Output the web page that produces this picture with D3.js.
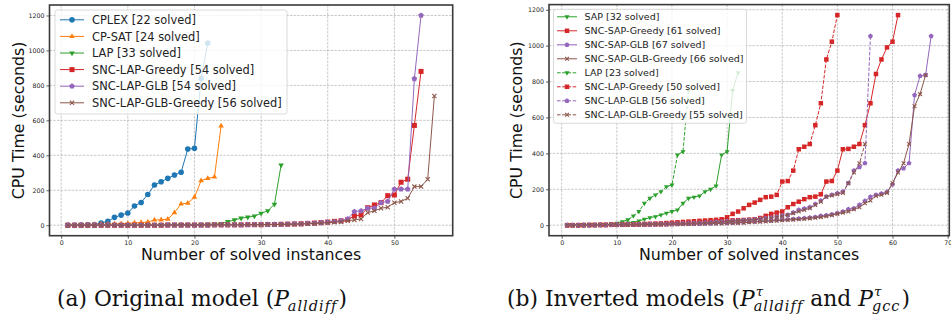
<!DOCTYPE html>
<html><head><meta charset="utf-8">
<script src="https://cdn.jsdelivr.net/npm/d3@7"></script>
<style>
html,body{margin:0;padding:0;background:#fff;}
svg{display:block;}
</style></head>
<body>
<svg id="chart" width="951" height="320"></svg>
<script>
// ---------- DATA ----------
// Panel (a): original model
const xTicksA = [0, 10, 20, 30, 40, 50];
const xTicksB = [0, 10, 20, 30, 40, 50, 60, 70];
const yTicks = [0, 200, 400, 600, 800, 1000, 1200];

const labelsA = ["CPLEX [22 solved]", "CP-SAT [24 solved]", "LAP [33 solved]",
  "SNC-LAP-Greedy [54 solved]", "SNC-LAP-GLB [54 solved]", "SNC-LAP-GLB-Greedy [56 solved]"];

const cplexA = [0,0,1,2,3,12,22,45,58,70,110,130,176,230,249,268,287,303,436,440,840,1043];
const cpsatA = [1,1,2,3,4,5,5,7,8,10,14,15,18,30,31,35,72,122,126,160,255,268,276,568];
const lapA = [0,0,0,0,0,0,0,1,1,1,1,1,2,2,2,2,3,3,3,4,4,5,6,9,20,30,40,46,52,68,82,120,344];
const greedyA = [0,0,0,0,0,0,0,0,0,0,0,0,0,0,0,1,1,1,1,1,1,1,2,2,2,2,2,3,3,3,
  4,4,5,6,7,8,10,12,15,18,22,25,32,53,59,100,116,129,169,173,246,263,571,880];
const glbA = [0,0,0,0,0,0,0,0,0,0,0,0,0,0,0,1,1,1,1,1,1,1,2,2,2,2,2,3,3,3,
  4,4,5,6,7,8,10,12,14,17,20,25,36,78,82,97,97,129,136,206,206,206,838,1200];
const glbGreedyA = [0,0,0,0,0,0,0,0,0,0,0,0,0,0,0,1,1,1,1,1,1,1,2,2,2,2,2,3,3,3,
  4,4,5,5,6,7,8,10,12,14,17,20,26,30,36,72,82,97,103,129,136,154,221,221,263,739];

// Panel (b): inverted models
const labelsB = ["SAP [32 solved]", "SNC-SAP-Greedy [61 solved]", "SNC-SAP-GLB [67 solved]",
  "SNC-SAP-GLB-Greedy [66 solved]", "LAP [23 solved]", "SNC-LAP-Greedy [50 solved]",
  "SNC-LAP-GLB [56 solved]", "SNC-LAP-GLB-Greedy [55 solved]"];

const sapB = [0,0,0,1,1,1,2,2,3,4,6,12,16,24,33,42,48,57,67,76,85,122,150,156,163,187,200,219,391,410,750,850];
const sapGreedyB = [0,0,0,0,1,1,1,1,2,2,2,3,3,3,4,4,5,5,6,7,8,9,10,12,13,15,17,20,22,25,
  27,28,29,31,33,40,52,63,70,76,100,118,131,145,156,159,172,243,246,304,
  423,425,437,452,557,679,842,923,990,1022,1170];
const sapGlbB = [0,0,0,0,1,1,1,1,2,2,2,3,3,3,4,4,4,5,5,6,6,7,7,8,8,9,9,10,11,12,
  13,14,16,18,20,22,24,26,28,30,32,34,37,39,42,45,52,55,60,67,
  76,89,94,113,135,158,169,176,185,228,304,317,345,725,831,836,1053];
const sapGlbGreedyB = [0,0,0,0,1,1,1,1,2,2,2,2,3,3,3,4,4,4,5,5,6,6,7,7,8,8,9,10,10,11,
  12,13,14,16,18,19,21,23,25,27,29,31,33,35,38,41,45,50,56,63,
  70,76,89,100,122,137,163,169,180,234,293,345,452,663,730,836];
const lapB = [0,0,1,1,2,2,3,4,6,11,20,30,52,76,122,150,169,187,215,224,391,410,752];
const lapGreedyB = [0,0,0,1,1,1,2,2,3,3,4,4,5,6,7,8,9,10,12,14,16,18,20,22,24,26,28,30,33,44,
  63,76,94,113,126,141,156,159,169,243,246,304,423,437,452,557,679,923,1022,1170];
const lapGlbB = [0,0,0,1,1,1,2,2,2,3,3,4,4,5,5,6,6,7,8,8,9,10,11,12,13,14,16,18,20,22,
  24,26,28,30,32,35,38,42,47,53,57,70,85,92,100,118,137,159,169,178,187,234,304,323,345,1053];
const lapGlbGreedyB = [0,0,0,1,1,1,2,2,2,3,3,3,4,4,5,5,6,6,7,8,8,9,10,11,12,13,14,16,18,20,
  22,24,26,28,30,33,36,40,45,50,57,66,76,85,94,113,131,159,165,172,180,234,293,345,452];

// ---------- STYLE ----------
const C = {blue:"#1f77b4", orange:"#ff7f0e", green:"#2ca02c", red:"#d62728", purple:"#9467bd", brown:"#8c564b"};

const seriesA = [
  {name: labelsA[0], values: cplexA, color: C.blue, marker: "circle", dash: null},
  {name: labelsA[1], values: cpsatA, color: C.orange, marker: "tri-up", dash: null},
  {name: labelsA[2], values: lapA, color: C.green, marker: "tri-down", dash: null},
  {name: labelsA[3], values: greedyA, color: C.red, marker: "square", dash: null},
  {name: labelsA[4], values: glbA, color: C.purple, marker: "pentagon", dash: null},
  {name: labelsA[5], values: glbGreedyA, color: C.brown, marker: "x", dash: null}
];
const DASH = "3.6,1.6";
const seriesB = [
  {name: labelsB[0], values: sapB, color: C.green, marker: "tri-down", dash: null},
  {name: labelsB[1], values: sapGreedyB, color: C.red, marker: "square", dash: null},
  {name: labelsB[2], values: sapGlbB, color: C.purple, marker: "pentagon", dash: null},
  {name: labelsB[3], values: sapGlbGreedyB, color: C.brown, marker: "x", dash: null},
  {name: labelsB[4], values: lapB, color: C.green, marker: "tri-down", dash: DASH},
  {name: labelsB[5], values: lapGreedyB, color: C.red, marker: "square", dash: DASH},
  {name: labelsB[6], values: lapGlbB, color: C.purple, marker: "pentagon", dash: DASH},
  {name: labelsB[7], values: lapGlbGreedyB, color: C.brown, marker: "x", dash: DASH}
];

const svg = d3.select("#chart");
const FONT = "DejaVu Sans, sans-serif";

function drawMarker(g, type, x, y, s, color) {
  const r = s / 2;
  if (type === "circle") {
    g.append("circle").attr("cx", x).attr("cy", y).attr("r", r).attr("fill", color);
  } else if (type === "square") {
    g.append("rect").attr("x", x - r * 0.9).attr("y", y - r * 0.9).attr("width", r * 1.8).attr("height", r * 1.8).attr("fill", color);
  } else if (type === "tri-up" || type === "tri-down") {
    const k = type === "tri-up" ? 1 : -1;
    const R = r * 1.15;
    const pts = [[0, -R * k], [R * 0.866, R * 0.5 * k], [-R * 0.866, R * 0.5 * k]];
    g.append("path").attr("d", "M" + pts.map(p => [x + p[0], y + p[1]].join(",")).join("L") + "Z").attr("fill", color);
  } else if (type === "pentagon") {
    const R = r * 1.05;
    const pts = d3.range(5).map(i => {
      const a = -Math.PI / 2 + i * 2 * Math.PI / 5;
      return [x + R * Math.cos(a), y + R * Math.sin(a)];
    });
    g.append("path").attr("d", "M" + pts.map(p => p.join(",")).join("L") + "Z").attr("fill", color);
  } else if (type === "x") {
    const h = r * 0.75;
    g.append("path").attr("d", `M${x - h},${y - h}L${x + h},${y + h}M${x - h},${y + h}L${x + h},${y - h}`)
      .attr("stroke", color).attr("stroke-width", 1.1).attr("fill", "none");
  }
}

function panel(cfg) {
  const {x0, x1, y0, y1, xDomain, yDomain, xTicks, series, legend, ylabelX, msize} = cfg;
  const x = d3.scaleLinear().domain(xDomain).range([x0, x1]);
  const y = d3.scaleLinear().domain(yDomain).range([y1, y0]);
  const g = svg.append("g");

  // grid
  const grid = g.append("g").attr("stroke", "#b0b0b0").attr("stroke-width", 0.7).attr("stroke-dasharray", "2.5,1.2");
  xTicks.forEach(t => grid.append("line").attr("x1", x(t)).attr("x2", x(t)).attr("y1", y0).attr("y2", y1));
  yTicks.forEach(t => grid.append("line").attr("x1", x0).attr("x2", x1).attr("y1", y(t)).attr("y2", y(t)));

  // axes with d3 axis generators
  const xAxis = d3.axisBottom(x).tickValues(xTicks).tickSize(3).tickPadding(2).tickFormat(d3.format("d"));
  const yAxis = d3.axisLeft(y).tickValues(yTicks).tickSize(3).tickPadding(2).tickFormat(d3.format("d"));
  const gx = g.append("g").attr("transform", `translate(0,${y1})`).call(xAxis);
  const gy = g.append("g").attr("transform", `translate(${x0},0)`).call(yAxis);
  [gx, gy].forEach(a => {
    a.select(".domain").remove();
    a.selectAll("line").attr("stroke", "#333").attr("stroke-width", 0.8);
    a.selectAll("text").attr("font-family", FONT).attr("font-size", 6.3).attr("fill", "#222");
  });

  // series
  const clip = "clip" + Math.round(x0);
  svg.append("clipPath").attr("id", clip).append("rect").attr("x", x0).attr("y", y0).attr("width", x1 - x0).attr("height", y1 - y0);
  const plot = g.append("g").attr("clip-path", `url(#${clip})`);
  series.forEach(s => {
    const pts = s.values.map((v, i) => [x(i + 1), y(v)]);
    const sg = plot.append("g");
    sg.append("path").attr("d", d3.line()(pts)).attr("fill", "none").attr("stroke", s.color)
      .attr("stroke-width", 1.0).attr("stroke-dasharray", s.dash);
    pts.forEach(p => drawMarker(sg, s.marker, p[0], p[1], msize, s.color));
  });

  // legend
  const lg = g.append("g");
  lg.append("rect").attr("x", legend.x).attr("y", legend.y).attr("width", legend.w).attr("height", legend.h)
    .attr("rx", 2.5).attr("fill", "#fff").attr("fill-opacity", 0.8).attr("stroke", "#d0d0d0").attr("stroke-width", 0.8);
  series.forEach((s, i) => {
    const cy = legend.firstRow + i * legend.step;
    lg.append("line").attr("x1", legend.hx0).attr("x2", legend.hx1).attr("y1", cy).attr("y2", cy)
      .attr("stroke", s.color).attr("stroke-width", 1.0).attr("stroke-dasharray", s.dash);
    drawMarker(lg, s.marker, (legend.hx0 + legend.hx1) / 2, cy, msize, s.color);
    lg.append("text").attr("x", legend.tx).attr("y", cy + legend.fs * 0.36).attr("font-family", FONT)
      .attr("font-size", legend.fs).attr("fill", "#222").text(s.name);
  });

  // spines
  g.append("rect").attr("x", x0).attr("y", y0).attr("width", x1 - x0).attr("height", y1 - y0)
    .attr("fill", "none").attr("stroke", "#3a3a3a").attr("stroke-width", 1.6);

  // axis labels
  g.append("text").attr("x", (x0 + x1) / 2).attr("y", 260).attr("text-anchor", "middle")
    .attr("font-family", FONT).attr("font-size", 15.8).attr("fill", "#111").text("Number of solved instances");
  g.append("text").attr("transform", `translate(${ylabelX},${(y0 + y1) / 2}) rotate(-90)`).attr("text-anchor", "middle")
    .attr("font-family", FONT).attr("font-size", 15.8).attr("fill", "#111").text("CPU Time (seconds)");
}

panel({x0: 49.5, x1: 452.7, y0: 5, y1: 235.7, xDomain: [-1.75, 58.75], yDomain: [-60, 1260],
  xTicks: xTicksA, series: seriesA, ylabelX: 24, msize: 5.6,
  legend: {x: 55, y: 10, w: 232, h: 104, firstRow: 19.8, step: 16.6, hx0: 60, hx1: 84, tx: 92, fs: 11.4}});

panel({x0: 549, x1: 949.3, y0: 4.6, y1: 235.7, xDomain: [-2.3, 70.3], yDomain: [-58.5, 1228.5],
  xTicks: xTicksB, series: seriesB, ylabelX: 521.5, msize: 5,
  legend: {x: 553.5, y: 9.3, w: 193, h: 114, firstRow: 16.8, step: 14.0, hx0: 557, hx1: 577, tx: 584.5, fs: 9.5}});

// captions (serif, with math-style italic P, superscript tau and subscripts)
const SERIF = "DejaVu Serif, Liberation Serif, serif";
const CAP_Y = 306, CAP_FS = 21.8, SUB_FS = 14.5;
const SPACE = CAP_FS * 0.32;
function capText(x, y, txt, fs, italic, spacing) {
  const t = svg.append("text").attr("x", x).attr("y", y).attr("font-family", SERIF)
    .attr("font-size", fs).attr("fill", "#111").text(txt);
  if (italic) t.attr("font-style", "italic");
  if (spacing) t.attr("letter-spacing", spacing);
  return t.node().getComputedTextLength();
}
function mathP(x, sup, sub) {
  let w = capText(x, CAP_Y, "P", CAP_FS, true);
  let xs = x + w - 1;
  let ws = 0, wp = 0;
  if (sup) wp = capText(xs + 2, CAP_Y - 10, sup, SUB_FS - 1, true);
  ws = capText(xs, CAP_Y + 5, sub, SUB_FS, true, 1.0);
  return x + w - 1 + Math.max(ws, wp);
}
// (a)
let cx = 57;
cx += capText(cx, CAP_Y, "(a) Original model", CAP_FS, false) + SPACE;
cx += capText(cx, CAP_Y, "(", CAP_FS, false);
cx = mathP(cx, null, "alldiff");
capText(cx + 1, CAP_Y, ")", CAP_FS, false);
// (b)
cx = 507;
cx += capText(cx, CAP_Y, "(b) Inverted models", CAP_FS, false) + SPACE;
cx += capText(cx, CAP_Y, "(", CAP_FS, false);
cx = mathP(cx, "τ", "alldiff");
cx += SPACE;
cx += capText(cx, CAP_Y, "and", CAP_FS, false) + SPACE;
cx = mathP(cx, "τ", "gcc");
capText(cx + 1, CAP_Y, ")", CAP_FS, false);
</script>
</body></html>
